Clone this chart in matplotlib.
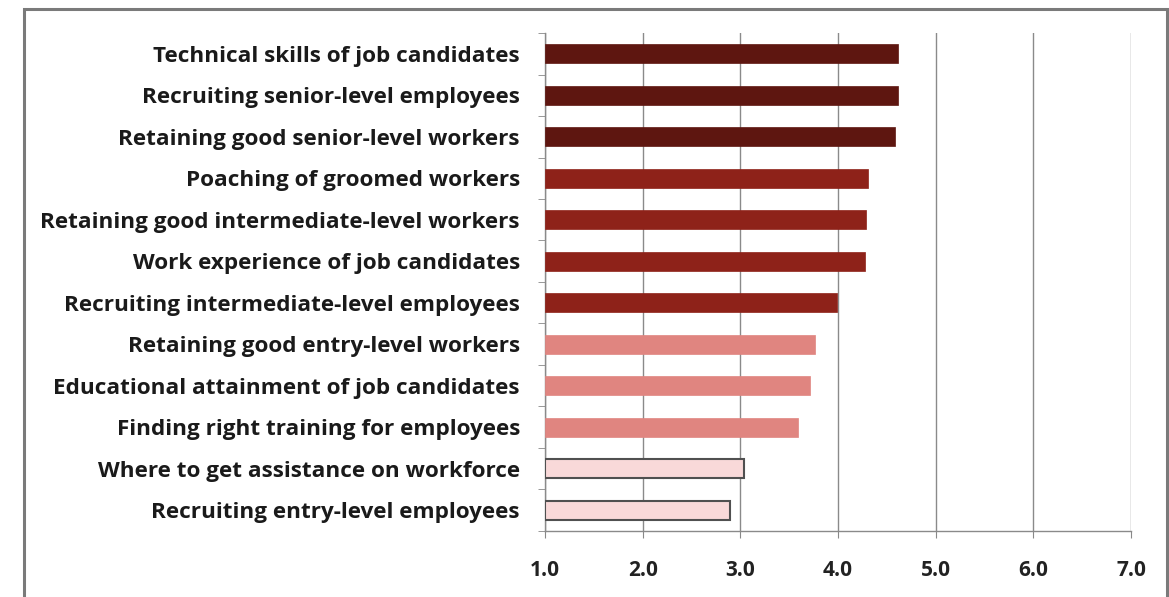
import numpy as np
import matplotlib
matplotlib.use("Agg")
from matplotlib import pyplot as plt
from matplotlib.patches import Rectangle

# workforce concerns, listed top to bottom
labels = [
    "Technical skills of job candidates",
    "Recruiting senior-level employees",
    "Retaining good senior-level workers",
    "Poaching of groomed workers",
    "Retaining good intermediate-level workers",
    "Work experience of job candidates",
    "Recruiting intermediate-level employees",
    "Retaining good entry-level workers",
    "Educational attainment of job candidates",
    "Finding right training for employees",
    "Where to get assistance on workforce",
    "Recruiting entry-level employees",
]
scores = [4.61, 4.61, 4.58, 4.31, 4.29, 4.28, 3.99, 3.76, 3.71, 3.59, 3.04, 2.89]
groups = [0, 0, 0, 1, 1, 1, 1, 2, 2, 2, 3, 3]
xticks = [1.0, 2.0, 3.0, 4.0, 5.0, 6.0, 7.0]

fills = ["#5e1610", "#8e2219", "#e08580", "#f9d9d9"]
edges = ["#5e1610", "#8e2219", "#e08580", "#505050"]

plt.rcParams['font.family'] = ['Open Sans', 'DejaVu Sans']

fig = plt.figure(figsize=(11.69, 5.97), dpi=100)
ax = fig.add_axes([0.4662, 0.1106, 0.5013, 0.8341])

y = np.arange(len(labels))
base = 1.0
for i in range(len(labels)):
    g = groups[i]
    ax.barh(y[i], scores[i] - base, left=base, height=0.46,
            color=fills[g], edgecolor=edges[g],
            linewidth=1.5 if g == 3 else 0.5, zorder=3)

ax.set_xlim(1.0, 7.0)
ax.set_ylim(len(labels) - 0.5, -0.5)
ax.set_xticks(xticks)
ax.set_xticklabels(["%.1f" % v for v in xticks], fontsize=15, fontweight="bold", color="#222222")
ax.set_yticks(y)
ax.set_yticklabels(labels, fontsize=16.2, fontweight="bold", color="#1a1a1a")
ax.tick_params(axis="y", length=0, pad=18)
ax.tick_params(axis="x", length=5, color="#888888", pad=16)

# small tick marks between categories on the left axis
ax.set_yticks(np.arange(-0.5, len(labels), 1.0), minor=True)
ax.tick_params(axis="y", which="minor", length=5, color="#888888")

ax.grid(axis="x", color="#8a8a8a", linewidth=1.0, zorder=0)
for s in ["top", "right"]:
    ax.spines[s].set_visible(False)
for s in ["left", "bottom"]:
    ax.spines[s].set_color("#8a8a8a")
    ax.spines[s].set_linewidth(1.0)

# outer frame around the whole figure
fig.patches.append(Rectangle((24 / 1169, -0.05), 1143 / 1169, 1.05 - 9 / 597,
                             transform=fig.transFigure, fill=False,
                             edgecolor="#7a7a7a", linewidth=2.2))

fig.savefig("out.png", dpi=100)
